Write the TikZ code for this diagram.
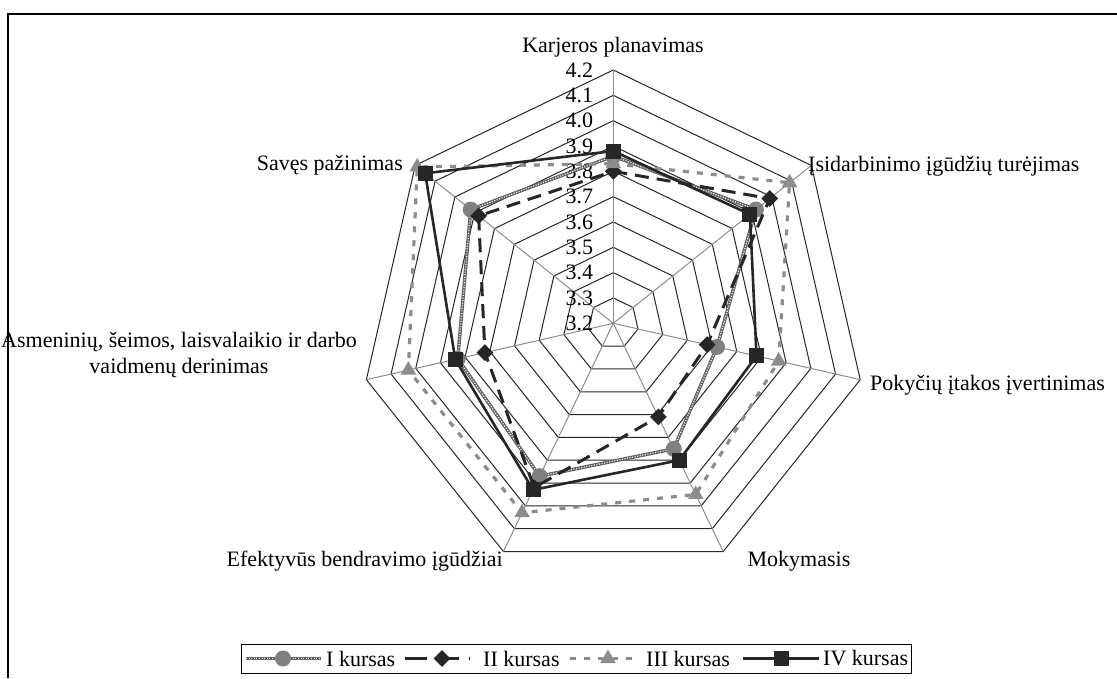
\documentclass[tikz,border=0pt]{standalone}
\usepackage{fontspec}
\setmainfont{Liberation Serif}
\usetikzlibrary{shapes.geometric}
\newcommand{\lblfont}{\fontsize{22}{26.5}\selectfont}

\begin{document}
\begin{tikzpicture}[x=1pt,y=-1pt,
  every node/.style={font=\lblfont, inner sep=0pt},
  ring/.style={draw=black!85, line width=1pt},
  spoke/.style={draw=black!45, line width=1pt},
  serIbase/.style={draw=black!62, line width=3.4pt, line join=round},
  serIdots/.style={draw=white, line width=1.2pt, dash pattern=on 1pt off 1.6pt},
  serII/.style={draw=black!85, line width=3pt, dash pattern=on 14pt off 8pt},
  serIII/.style={draw=black!45, line width=3.2pt, dash pattern=on 6pt off 8pt},
  serIV/.style={draw=black!85, line width=2.6pt, line join=round},
  mkI/.style={circle, fill=black!50, minimum size=16pt},
  mkII/.style={diamond, aspect=1, fill=black!85, minimum width=17pt, minimum height=17pt},
  mkIII/.style={regular polygon, regular polygon sides=3, fill=black!45, minimum size=18pt},
  mkIV/.style={rectangle, fill=black!85, minimum size=15pt},
]
\useasboundingbox (0,0) rectangle (1117,678);
% outer frame (open on the right and bottom)
\draw[line width=1.5pt] (8,678) -- (8,14) -- (1117,14);

\begin{scope}[shift={(613.3,323.3)}]
  % rings 3.3 ... 4.2
  \foreach \k in {1,...,10}{
    \draw[ring] (-90:\k*25.33) \foreach \a in {1,...,6}{ -- ({-90+\a*360/7}:\k*25.33) } -- cycle;
  }
  % spokes
  \foreach \a in {0,...,6}{
    \draw[spoke] (0,0) -- ({-90+\a*360/7}:253.3);
  }
  % scale labels
  \foreach \v [count=\i from 0] in {3.2,3.3,3.4,3.5,3.6,3.7,3.8,3.9,4.0,4.1,4.2}{
    \node[anchor=east] (tick\i) at (-20,-\i*25.33) {\v};
  }
  % data points of each series
  \foreach \v [count=\k from 0] in {3.86,3.92,3.62,3.75,3.87,3.83,3.92}
    \coordinate (a\k) at ({-90+\k*360/7}:{(\v-3.2)*253.3});
  \foreach \v [count=\k from 0] in {3.80,3.99,3.58,3.61,3.92,3.72,3.88}
    \coordinate (b\k) at ({-90+\k*360/7}:{(\v-3.2)*253.3});
  \foreach \v [count=\k from 0] in {3.83,4.09,3.87,3.95,4.03,4.03,4.19}
    \coordinate (c\k) at ({-90+\k*360/7}:{(\v-3.2)*253.3});
  \foreach \v [count=\k from 0] in {3.88,3.89,3.78,3.80,3.93,3.84,4.15}
    \coordinate (d\k) at ({-90+\k*360/7}:{(\v-3.2)*253.3});

  % I kursas
  \draw[serIbase] (a0) -- (a1) -- (a2) -- (a3) -- (a4) -- (a5) -- (a6) -- cycle;
  \draw[serIdots] (a0) -- (a1) -- (a2) -- (a3) -- (a4) -- (a5) -- (a6) -- cycle;
  \foreach \k in {0,...,6} \node[mkI] (mI\k) at (a\k) {};
  % II kursas
  \draw[serII] (b0) -- (b1) -- (b2) -- (b3) -- (b4) -- (b5) -- (b6) -- cycle;
  \foreach \k in {0,...,6} \node[mkII] (mII\k) at (b\k) {};
  % III kursas
  \draw[serIII] (c0) -- (c1) -- (c2) -- (c3) -- (c4) -- (c5) -- (c6) -- cycle;
  \foreach \k in {0,...,6} \node[mkIII] (mIII\k) at (c\k) {};
  % IV kursas
  \draw[serIV] (d0) -- (d1) -- (d2) -- (d3) -- (d4) -- (d5) -- (d6) -- cycle;
  \foreach \k in {0,...,6} \node[mkIV] (mIV\k) at (d\k) {};
\end{scope}

% category labels
\node[anchor=base] (cat0) at (613,52) {Karjeros planavimas};
\node[anchor=base west] (cat1) at (808,171) {Įsidarbinimo įgūdžių turėjimas};
\node[anchor=base west] (cat2) at (870,390) {Pokyčių įtakos įvertinimas};
\node[anchor=base] (cat3) at (799,566) {Mokymasis};
\node[anchor=base east] (cat4) at (503,566) {Efektyvūs bendravimo įgūdžiai};
\node[align=center] (cat5) at (179,355) {Asmeninių, šeimos, laisvalaikio ir darbo\\vaidmenų derinimas};
\node[anchor=base east] (cat6) at (403,170) {Savęs pažinimas};

% legend
\node[draw, line width=1pt, minimum width=670pt, minimum height=29pt] (legend) at (576,658.5) {};
\coordinate (lIa) at (246,658.5); \coordinate (lIb) at (321,658.5);
\draw[serIbase] (lIa) -- (lIb);
\draw[serIdots] (lIa) -- (lIb);
\node[mkI] (lgI) at (283,658.5) {};
\node[anchor=west] (txI) at (326,658.5) {I kursas};
\coordinate (lIIa) at (405,658.5); \coordinate (lIIb) at (470,658.5);
\draw[serII, dash pattern=on 22pt off 10pt] (lIIa) -- (lIIb);
\node[mkII] (lgII) at (442,658.5) {};
\node[anchor=west] (txII) at (483,658.5) {II kursas};
\coordinate (lIIIa) at (570,658.5); \coordinate (lIIIb) at (639,658.5);
\draw[serIII] (lIIIa) -- (lIIIb);
\node[mkIII] (lgIII) at (608,658.5) {};
\node[anchor=west] (txIII) at (646,658.5) {III kursas};
\coordinate (lIVa) at (743,658.5); \coordinate (lIVb) at (819,658.5);
\draw[serIV] (lIVa) -- (lIVb);
\node[mkIV] (lgIV) at (781,658.5) {};
\node[anchor=west] (txIV) at (823,658.5) {IV kursas};
\end{tikzpicture}
\end{document}
